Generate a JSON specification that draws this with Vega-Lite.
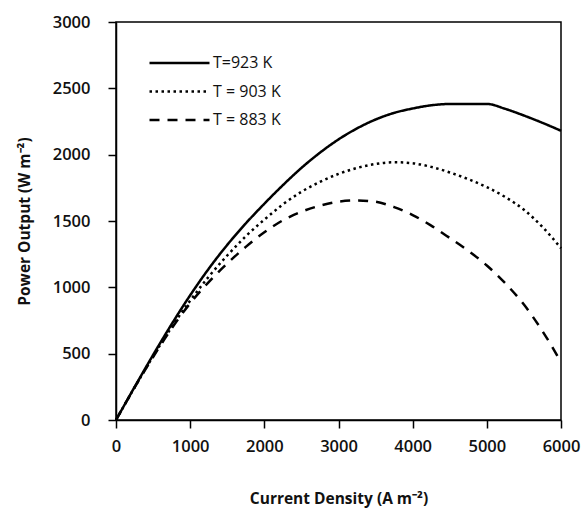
{
  "$schema": "https://vega.github.io/schema/vega-lite/v6.json",
  "width": 445,
  "height": 398,
  "autosize": "none",
  "padding": {"left": 116, "top": 22, "right": 26, "bottom": 88},
  "background": "white",
  "config": {
    "view": {"stroke": "black", "strokeWidth": 1.5},
    "font": "Open Sans",
    "axis": {
      "grid": false,
      "domainColor": "black",
      "domainWidth": 1.5,
      "tickColor": "black",
      "tickWidth": 1.5,
      "tickSize": 8,
      "labelColor": "#111",
      "labelFont": "Open Sans",
      "labelFontSize": 16.5,
      "labelFontWeight": 600,
      "labelFlush": false,
      "format": "d",
      "titleFont": "Open Sans",
      "titleFontSize": 15.5,
      "titleFontWeight": "bold",
      "titleColor": "#111"
    }
  },
  "data": {
    "values": [
      {"J": 0, "P": 0, "T": "T=923 K"},
      {"J": 250, "P": 248, "T": "T=923 K"},
      {"J": 500, "P": 490, "T": "T=923 K"},
      {"J": 750, "P": 722, "T": "T=923 K"},
      {"J": 1000, "P": 940, "T": "T=923 K"},
      {"J": 1250, "P": 1140, "T": "T=923 K"},
      {"J": 1500, "P": 1320, "T": "T=923 K"},
      {"J": 1750, "P": 1482, "T": "T=923 K"},
      {"J": 2000, "P": 1630, "T": "T=923 K"},
      {"J": 2250, "P": 1770, "T": "T=923 K"},
      {"J": 2500, "P": 1900, "T": "T=923 K"},
      {"J": 2750, "P": 2015, "T": "T=923 K"},
      {"J": 3000, "P": 2115, "T": "T=923 K"},
      {"J": 3250, "P": 2198, "T": "T=923 K"},
      {"J": 3500, "P": 2265, "T": "T=923 K"},
      {"J": 3750, "P": 2315, "T": "T=923 K"},
      {"J": 4000, "P": 2348, "T": "T=923 K"},
      {"J": 4250, "P": 2372, "T": "T=923 K"},
      {"J": 4500, "P": 2382, "T": "T=923 K"},
      {"J": 5000, "P": 2382, "T": "T=923 K"},
      {"J": 5250, "P": 2345, "T": "T=923 K"},
      {"J": 5500, "P": 2295, "T": "T=923 K"},
      {"J": 5750, "P": 2240, "T": "T=923 K"},
      {"J": 6000, "P": 2180, "T": "T=923 K"},
      {"J": 0, "P": 0, "T": "T = 903 K"},
      {"J": 250, "P": 245, "T": "T = 903 K"},
      {"J": 500, "P": 480, "T": "T = 903 K"},
      {"J": 750, "P": 700, "T": "T = 903 K"},
      {"J": 1000, "P": 900, "T": "T = 903 K"},
      {"J": 1250, "P": 1080, "T": "T = 903 K"},
      {"J": 1500, "P": 1240, "T": "T = 903 K"},
      {"J": 1750, "P": 1385, "T": "T = 903 K"},
      {"J": 2000, "P": 1510, "T": "T = 903 K"},
      {"J": 2250, "P": 1625, "T": "T = 903 K"},
      {"J": 2500, "P": 1720, "T": "T = 903 K"},
      {"J": 2750, "P": 1795, "T": "T = 903 K"},
      {"J": 3000, "P": 1855, "T": "T = 903 K"},
      {"J": 3250, "P": 1900, "T": "T = 903 K"},
      {"J": 3500, "P": 1930, "T": "T = 903 K"},
      {"J": 3750, "P": 1943, "T": "T = 903 K"},
      {"J": 4000, "P": 1935, "T": "T = 903 K"},
      {"J": 4250, "P": 1908, "T": "T = 903 K"},
      {"J": 4500, "P": 1866, "T": "T = 903 K"},
      {"J": 4750, "P": 1815, "T": "T = 903 K"},
      {"J": 5000, "P": 1755, "T": "T = 903 K"},
      {"J": 5250, "P": 1680, "T": "T = 903 K"},
      {"J": 5500, "P": 1585, "T": "T = 903 K"},
      {"J": 5750, "P": 1455, "T": "T = 903 K"},
      {"J": 6000, "P": 1295, "T": "T = 903 K"},
      {"J": 0, "P": 0, "T": "T = 883 K"},
      {"J": 250, "P": 245, "T": "T = 883 K"},
      {"J": 500, "P": 475, "T": "T = 883 K"},
      {"J": 750, "P": 690, "T": "T = 883 K"},
      {"J": 1000, "P": 880, "T": "T = 883 K"},
      {"J": 1250, "P": 1040, "T": "T = 883 K"},
      {"J": 1500, "P": 1180, "T": "T = 883 K"},
      {"J": 1750, "P": 1305, "T": "T = 883 K"},
      {"J": 2000, "P": 1415, "T": "T = 883 K"},
      {"J": 2250, "P": 1505, "T": "T = 883 K"},
      {"J": 2500, "P": 1570, "T": "T = 883 K"},
      {"J": 2750, "P": 1615, "T": "T = 883 K"},
      {"J": 3000, "P": 1645, "T": "T = 883 K"},
      {"J": 3250, "P": 1655, "T": "T = 883 K"},
      {"J": 3500, "P": 1645, "T": "T = 883 K"},
      {"J": 3750, "P": 1605, "T": "T = 883 K"},
      {"J": 4000, "P": 1545, "T": "T = 883 K"},
      {"J": 4250, "P": 1465, "T": "T = 883 K"},
      {"J": 4500, "P": 1372, "T": "T = 883 K"},
      {"J": 4750, "P": 1275, "T": "T = 883 K"},
      {"J": 5000, "P": 1165, "T": "T = 883 K"},
      {"J": 5250, "P": 1030, "T": "T = 883 K"},
      {"J": 5500, "P": 870, "T": "T = 883 K"},
      {"J": 5750, "P": 670, "T": "T = 883 K"},
      {"J": 6000, "P": 437, "T": "T = 883 K"}
    ]
  },
  "mark": {"type": "line", "color": "black", "strokeWidth": 2.5, "interpolate": "monotone"},
  "encoding": {
    "x": {
      "field": "J",
      "type": "quantitative",
      "scale": {"domain": [0, 6000], "nice": false},
      "axis": {
        "values": [0, 1000, 2000, 3000, 4000, 5000, 6000],
        "labelPadding": 10,
        "title": "Current Density (A m⁻²)",
        "titlePadding": 37
      }
    },
    "y": {
      "field": "P",
      "type": "quantitative",
      "scale": {"domain": [0, 3000], "nice": false},
      "axis": {
        "values": [0, 500, 1000, 1500, 2000, 2500, 3000],
        "labelPadding": 18,
        "title": "Power Output (W m⁻²)",
        "titlePadding": 20
      }
    },
    "strokeDash": {
      "field": "T",
      "type": "nominal",
      "sort": ["T=923 K", "T = 903 K", "T = 883 K"],
      "scale": {
        "domain": ["T=923 K", "T = 903 K", "T = 883 K"],
        "range": [[1, 0], [2.5, 3.5], [10, 8]]
      },
      "legend": {
        "title": null,
        "orient": "none",
        "legendX": 32,
        "legendY": 31,
        "symbolType": "stroke",
        "symbolSize": 3600,
        "symbolStrokeWidth": 2.5,
        "symbolStrokeColor": "black",
        "clipHeight": 20,
        "rowPadding": 8.5,
        "labelOffset": 2,
        "labelFont": "Open Sans",
        "labelFontSize": 16,
        "labelColor": "#111"
      }
    }
  }
}
